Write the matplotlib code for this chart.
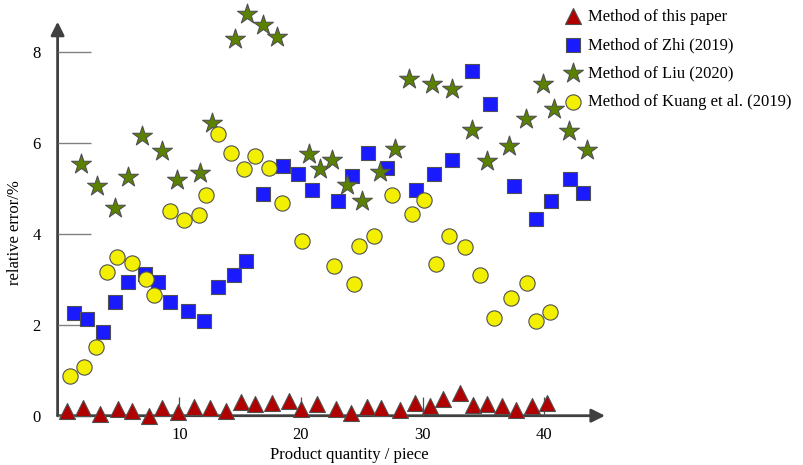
import matplotlib
matplotlib.use("Agg")
import matplotlib.pyplot as plt

# ---- data ----
tri_x = [0.8, 2.1, 3.5, 5.0, 6.1, 7.5, 8.6, 9.9, 11.2, 12.5, 13.8, 15.1, 16.2, 17.6, 19.0,
         20.0, 21.3, 22.9, 24.1, 25.4, 26.6, 28.1, 29.4, 30.6, 31.7, 33.1, 34.1, 35.3,
         36.5, 37.7, 39.0, 40.2]
tri_y = [0.10, 0.17, 0.04, 0.15, 0.11, 0.00, 0.16, 0.08, 0.19, 0.18, 0.11, 0.30, 0.25,
         0.28, 0.33, 0.15, 0.26, 0.14, 0.07, 0.19, 0.18, 0.13, 0.28, 0.21, 0.36, 0.49,
         0.24, 0.26, 0.21, 0.12, 0.21, 0.27]

sq_x = [1.35, 2.44, 3.70, 4.72, 5.76, 7.18, 8.28, 9.24, 10.70, 12.03, 13.21, 14.49, 15.48,
        16.90, 18.50, 19.78, 20.88, 23.07, 24.21, 25.53, 27.04, 29.43, 30.96, 32.38, 34.03,
        35.53, 37.50, 39.31, 40.52, 42.11, 43.15]
sq_y = [2.26, 2.12, 1.84, 2.49, 2.94, 3.11, 2.94, 2.50, 2.31, 2.09, 2.83, 3.10, 3.40,
        4.88, 5.49, 5.32, 4.95, 4.72, 5.27, 5.78, 5.45, 4.97, 5.32, 5.62, 7.57,
        6.86, 5.05, 4.33, 4.72, 5.21, 4.90]

star_x = [1.92, 3.21, 4.72, 5.76, 6.96, 8.55, 9.84, 11.70, 12.66, 14.58, 15.54, 16.90, 18.05,
          20.68, 21.56, 22.53, 23.76, 24.99, 26.49, 27.72, 28.90, 30.74, 32.38, 34.03,
          35.26, 37.09, 38.49, 39.86, 40.79, 42.02, 43.48]
star_y = [5.54, 5.05, 4.56, 5.24, 6.14, 5.82, 5.19, 5.34, 6.43, 8.29, 8.82, 8.58, 8.33,
          5.75, 5.43, 5.61, 5.07, 4.72, 5.35, 5.87, 7.41, 7.30, 7.17, 6.28,
          5.60, 5.93, 6.52, 7.30, 6.75, 6.26, 5.85]

circ_x = [1.02, 2.19, 3.13, 4.03, 4.91, 6.14, 7.24, 7.95, 9.24, 10.39, 11.62, 12.19, 13.21,
          14.25, 15.29, 16.22, 17.35, 18.41, 20.11, 22.74, 24.37, 24.77, 26.02, 27.49,
          29.14, 30.11, 31.09, 32.16, 33.48, 34.71, 35.86, 37.23, 38.59, 39.31, 40.46]
circ_y = [0.87, 1.06, 1.51, 3.16, 3.48, 3.36, 3.00, 2.65, 4.50, 4.30, 4.41, 4.86, 6.20,
          5.78, 5.43, 5.70, 5.45, 4.68, 3.85, 3.29, 2.89, 3.73, 3.95, 4.85,
          4.44, 4.74, 3.34, 3.94, 3.70, 3.09, 2.15, 2.59, 2.92, 2.09, 2.29]

labels = ["Method of this paper", "Method of Zhi (2019)",
          "Method of Liu (2020)", "Method of Kuang et al. (2019)"]
xticks = [10, 20, 30, 40]
yticks = [0, 2, 4, 6, 8]

plt.rcParams['font.family'] = ['Liberation Serif', 'DejaVu Serif']

W, H = 804, 465
fig = plt.figure(figsize=(W / 100, H / 100), dpi=100)
x0, x1 = 57.6, 605.0
y0, y1 = 415.7, 21.7
ax = fig.add_axes([x0 / W, (H - y0) / H, (x1 - x0) / W, (y0 - y1) / H])
ax.set_xlim(0, (x1 - x0) / 12.17)
ax.set_ylim(0, (y0 - y1) / 45.5)

for s in ax.spines.values():
    s.set_visible(False)

axc = '#404040'
ax.annotate('', xy=(1, 0), xytext=(0, 0), xycoords='axes fraction',
            arrowprops=dict(arrowstyle='-|>', color=axc, lw=2, mutation_scale=20,
                            shrinkA=0, shrinkB=0), zorder=1)
ax.annotate('', xy=(0, 1), xytext=(0, 0), xycoords='axes fraction',
            arrowprops=dict(arrowstyle='-|>', color=axc, lw=2, mutation_scale=20,
                            shrinkA=0, shrinkB=0), zorder=1)

ax.set_xticks(xticks)
ax.set_yticks(yticks)
ax.tick_params(axis='x', direction='in', length=14, width=0.9, color='#505050',
               labelsize=12, pad=8)
ax.tick_params(axis='y', direction='in', length=24, width=1.0, color='#808080',
               labelsize=12, pad=12)

edge = '#505050'
h1 = ax.scatter(tri_x, tri_y, marker='^', s=11.5**2, c='#b00000', edgecolors=edge,
                linewidths=0.8, clip_on=False, zorder=3, label=labels[0])
h2 = ax.scatter(sq_x, sq_y, marker='s', s=10.5**2, c='#1a1aff', edgecolors=edge,
                linewidths=0.8, clip_on=False, zorder=4, label=labels[1])
h3 = ax.scatter(star_x, star_y, marker='*', s=15**2, c='#5a8200', edgecolors=edge,
                linewidths=0.8, clip_on=False, zorder=5, label=labels[2])
h4 = ax.scatter(circ_x, circ_y, marker='o', s=11**2, c='#f2f000', edgecolors=edge,
                linewidths=0.8, clip_on=False, zorder=6, label=labels[3])

leg = fig.legend(handles=[h1, h2, h3, h4], labels=labels, loc='upper left',
                 bbox_to_anchor=(556 / W, 1 - 2 / H), frameon=False, fontsize=12,
                 handletextpad=0.3, labelspacing=0.75, borderaxespad=0,
                 handlelength=1.2)

fig.text(349.5 / W, 1 - 455 / H, 'Product quantity / piece', ha='center', va='center',
         fontsize=12)
fig.text(15 / W, 1 - 233 / H, 'relative error/%', ha='center', va='center',
         rotation=90, fontsize=12)

fig.savefig('out.png', dpi=100)
